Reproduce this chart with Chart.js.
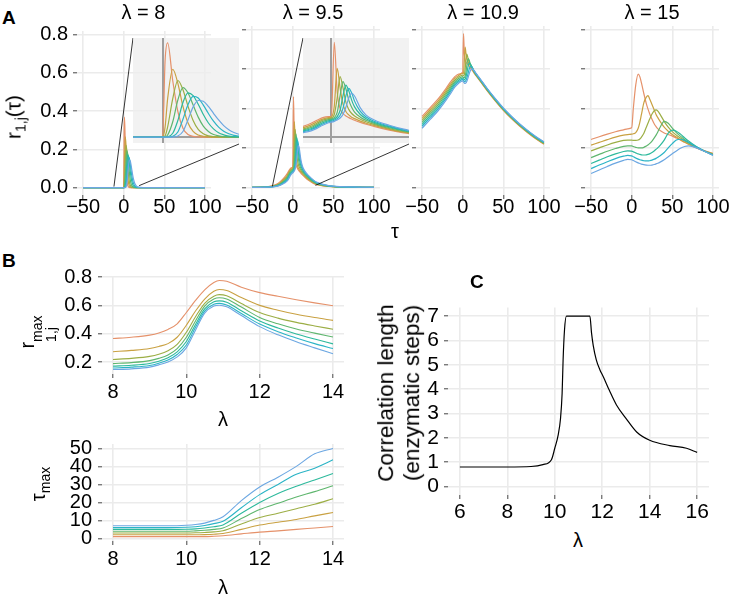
<!DOCTYPE html>
<html lang="en">
<head>
<meta charset="UTF-8">
<title>Correlation panels</title>
<script src="https://cdn.jsdelivr.net/npm/chart.js@4.4.1/dist/chart.umd.min.js"></script>
<style>
  body { margin: 0; background: #fff; width: 731px; height: 594px; position: relative; overflow: hidden;
         font-family: 'Liberation Sans', Arial, Helvetica, sans-serif; }
  canvas { position: absolute; }
  .lbl { position: absolute; white-space: nowrap; color: #000; line-height: 1; }
  .c { transform: translate(-50%, -50%); }
  .rot { transform: translate(-50%, -50%) rotate(-90deg); }
  .tag { font-weight: bold; font-size: 19px; }
  .ttl { font-size: 20px; }
  .ax { font-size: 20px; }
  .stack { display: inline-flex; flex-direction: column; font-size: 14px; line-height: 1.0; vertical-align: -8px; }
  sub { font-size: 14px; vertical-align: -5px; line-height: 0; }
</style>
</head>
<body>

<canvas id="a1"></canvas>
<canvas id="a2"></canvas>
<canvas id="a3"></canvas>
<canvas id="a4"></canvas>
<canvas id="in1"></canvas>
<canvas id="in2"></canvas>
<canvas id="b1"></canvas>
<canvas id="b2"></canvas>
<canvas id="cc"></canvas>

<div class="lbl tag" style="left:2px;top:8px">A</div>
<div class="lbl tag" style="left:2px;top:251px">B</div>
<div class="lbl tag" style="left:470px;top:272px">C</div>

<div class="lbl ttl c" style="left:143.5px;top:12px">λ = 8</div>
<div class="lbl ttl c" style="left:313px;top:12px">λ = 9.5</div>
<div class="lbl ttl c" style="left:483px;top:12px">λ = 10.9</div>
<div class="lbl ttl c" style="left:652px;top:12px">λ = 15</div>
<div class="lbl ax c" style="left:395px;top:231px">τ</div>
<div class="lbl ax rot" style="left:13px;top:117px;font-size:21px">r<sub>1,j</sub>(τ)</div>

<div class="lbl ax rot" style="left:37px;top:332px">r<span class="stack"><span>max</span><span>1,j</span></span></div>
<div class="lbl ax c" style="left:223px;top:419px">λ</div>
<div class="lbl ax rot" style="left:38px;top:484px">τ<sub>max</sub></div>
<div class="lbl ax c" style="left:223px;top:587px">λ</div>

<div class="lbl ax rot" style="left:399px;top:393px;font-size:22.5px;text-align:center;line-height:1.15">Correlation length<br>(enzymatic steps)</div>
<div class="lbl ax c" style="left:578px;top:540px">λ</div>

<script>
// ---- colours of the 7 series (first -> last) ----
const seriesColors = ['#E5916A', '#C9A142', '#9CAE45', '#5FB66E', '#2DB99C', '#2BB4C6', '#6CA7E2'];

// ---- panel A, lambda = 8 ----
const tauA1 = [-50, -10, -1, 0, 0.5, 1, 2, 3, 4, 5, 6, 7, 8, 9, 10, 11, 12, 13, 14, 15, 16, 18, 20, 30, 50, 100];
const r1A1 = [0, 0, 0, 0, 0.30, 0.368, 0.22, 0.10, 0.035, 0.01, 0.003, 0.001, 0, 0, 0, 0, 0, 0, 0, 0, 0, 0, 0, 0, 0, 0];
const r2A1 = [0, 0, 0, 0, 0.04, 0.15, 0.265, 0.21, 0.12, 0.055, 0.022, 0.008, 0.003, 0.001, 0, 0, 0, 0, 0, 0, 0, 0, 0, 0, 0, 0];
const r3A1 = [0, 0, 0, 0, 0.005, 0.04, 0.15, 0.221, 0.185, 0.12, 0.065, 0.03, 0.013, 0.005, 0.002, 0.001, 0, 0, 0, 0, 0, 0, 0, 0, 0, 0];
const r4A1 = [0, 0, 0, 0, 0, 0.008, 0.06, 0.145, 0.193, 0.172, 0.125, 0.078, 0.043, 0.022, 0.01, 0.005, 0.002, 0.001, 0, 0, 0, 0, 0, 0, 0, 0];
const r5A1 = [0, 0, 0, 0, 0, 0.001, 0.015, 0.065, 0.135, 0.173, 0.162, 0.128, 0.088, 0.055, 0.032, 0.017, 0.009, 0.004, 0.002, 0.001, 0, 0, 0, 0, 0, 0];
const r6A1 = [0, 0, 0, 0, 0, 0, 0.003, 0.02, 0.07, 0.127, 0.159, 0.153, 0.125, 0.092, 0.062, 0.039, 0.023, 0.013, 0.007, 0.004, 0.002, 0.001, 0, 0, 0, 0];
const r7A1 = [0, 0, 0, 0, 0, 0, 0, 0.004, 0.022, 0.068, 0.118, 0.143, 0.14, 0.12, 0.093, 0.067, 0.045, 0.029, 0.018, 0.011, 0.006, 0.002, 0.001, 0, 0, 0];

// ---- panel A, lambda = 9.5 ----
const tauA2 = [-50, -30, -20, -15, -10, -7, -5, -3, -1, 0, 1, 2, 3, 4, 5, 6, 7, 8, 10, 12, 15, 20, 25, 30, 40, 50, 75, 100];
const r1A2 = [0, 0.004, 0.015, 0.03, 0.052, 0.068, 0.082, 0.095, 0.1, 0.102, 0.46, 0.22, 0.14, 0.115, 0.103, 0.095, 0.088, 0.082, 0.072, 0.063, 0.051, 0.034, 0.021, 0.013, 0.006, 0.003, 0.001, 0];
const r2A2 = [0, 0.003, 0.012, 0.025, 0.045, 0.06, 0.075, 0.088, 0.095, 0.098, 0.15, 0.334, 0.24, 0.16, 0.125, 0.108, 0.097, 0.09, 0.078, 0.068, 0.056, 0.038, 0.024, 0.015, 0.007, 0.003, 0.001, 0];
const r3A2 = [0, 0.002, 0.01, 0.021, 0.039, 0.053, 0.068, 0.082, 0.09, 0.093, 0.11, 0.19, 0.294, 0.24, 0.17, 0.135, 0.115, 0.103, 0.087, 0.075, 0.061, 0.042, 0.027, 0.017, 0.008, 0.004, 0.001, 0];
const r4A2 = [0, 0.002, 0.008, 0.018, 0.034, 0.047, 0.062, 0.076, 0.085, 0.088, 0.095, 0.12, 0.2, 0.27, 0.235, 0.18, 0.145, 0.122, 0.097, 0.082, 0.066, 0.046, 0.03, 0.019, 0.009, 0.004, 0.001, 0];
const r5A2 = [0, 0.001, 0.007, 0.015, 0.03, 0.041, 0.055, 0.07, 0.08, 0.083, 0.088, 0.1, 0.13, 0.2, 0.253, 0.225, 0.18, 0.147, 0.11, 0.09, 0.071, 0.05, 0.033, 0.021, 0.01, 0.005, 0.001, 0];
const r6A2 = [0, 0.001, 0.006, 0.013, 0.026, 0.036, 0.049, 0.064, 0.075, 0.078, 0.082, 0.09, 0.105, 0.14, 0.2, 0.237, 0.215, 0.175, 0.125, 0.098, 0.076, 0.054, 0.036, 0.023, 0.011, 0.005, 0.001, 0];
const r7A2 = [0, 0.001, 0.005, 0.011, 0.022, 0.031, 0.043, 0.058, 0.07, 0.073, 0.077, 0.083, 0.093, 0.11, 0.145, 0.19, 0.213, 0.2, 0.142, 0.107, 0.082, 0.058, 0.039, 0.025, 0.012, 0.006, 0.002, 0];

// ---- panel A, lambda = 10.9 ----
const tauA3 = [-50, -40, -30, -20, -15, -10, -5, 0, 1, 2, 3, 4, 5, 6, 7, 8, 9, 10, 11, 12, 14, 16, 20, 25, 30, 40, 50, 60, 70, 80, 90, 100];
const r1A3 = [0.36, 0.405, 0.45, 0.505, 0.535, 0.56, 0.575, 0.585, 0.78, 0.68, 0.648, 0.636, 0.63, 0.625, 0.62, 0.615, 0.61, 0.603, 0.597, 0.592, 0.58, 0.569, 0.547, 0.519, 0.491, 0.439, 0.391, 0.349, 0.311, 0.277, 0.246, 0.219];
const r2A3 = [0.35, 0.395, 0.44, 0.495, 0.525, 0.552, 0.568, 0.578, 0.58, 0.64, 0.712, 0.68, 0.655, 0.642, 0.634, 0.627, 0.62, 0.612, 0.605, 0.598, 0.583, 0.571, 0.549, 0.521, 0.493, 0.441, 0.393, 0.351, 0.313, 0.279, 0.248, 0.221];
const r3A3 = [0.34, 0.385, 0.43, 0.485, 0.515, 0.543, 0.56, 0.57, 0.568, 0.572, 0.6, 0.645, 0.676, 0.665, 0.648, 0.636, 0.626, 0.617, 0.609, 0.601, 0.585, 0.573, 0.551, 0.523, 0.495, 0.443, 0.395, 0.353, 0.315, 0.281, 0.25, 0.223];
const r4A3 = [0.33, 0.375, 0.42, 0.475, 0.505, 0.534, 0.552, 0.562, 0.558, 0.557, 0.565, 0.585, 0.615, 0.645, 0.654, 0.645, 0.632, 0.622, 0.613, 0.604, 0.587, 0.575, 0.553, 0.525, 0.497, 0.445, 0.397, 0.355, 0.317, 0.283, 0.252, 0.225];
const r5A3 = [0.32, 0.365, 0.41, 0.465, 0.495, 0.525, 0.544, 0.555, 0.55, 0.547, 0.55, 0.56, 0.578, 0.6, 0.62, 0.632, 0.628, 0.622, 0.615, 0.607, 0.589, 0.577, 0.555, 0.527, 0.499, 0.447, 0.399, 0.357, 0.319, 0.285, 0.254, 0.227];
const r6A3 = [0.31, 0.355, 0.4, 0.455, 0.485, 0.516, 0.536, 0.548, 0.543, 0.538, 0.538, 0.543, 0.553, 0.568, 0.585, 0.6, 0.61, 0.614, 0.612, 0.607, 0.591, 0.579, 0.557, 0.529, 0.501, 0.449, 0.401, 0.359, 0.321, 0.287, 0.256, 0.229];
const r7A3 = [0.30, 0.345, 0.39, 0.445, 0.475, 0.507, 0.528, 0.54, 0.535, 0.53, 0.528, 0.53, 0.537, 0.548, 0.562, 0.576, 0.588, 0.597, 0.601, 0.6, 0.593, 0.581, 0.559, 0.531, 0.503, 0.451, 0.403, 0.361, 0.323, 0.289, 0.258, 0.231];

// ---- panel A, lambda = 15 ----
const tauA4 = [-50, -40, -30, -20, -10, -5, 0, 2, 5, 8, 10, 12, 15, 18, 20, 22, 25, 28, 30, 32, 35, 40, 45, 50, 55, 60, 65, 70, 75, 80, 90, 100];
const r1A4 = [0.243, 0.257, 0.27, 0.282, 0.292, 0.297, 0.302, 0.40, 0.52, 0.575, 0.562, 0.53, 0.475, 0.425, 0.398, 0.375, 0.345, 0.32, 0.308, 0.298, 0.288, 0.276, 0.268, 0.26, 0.25, 0.24, 0.229, 0.219, 0.209, 0.2, 0.185, 0.172];
const r2A4 = [0.214, 0.228, 0.242, 0.255, 0.265, 0.268, 0.27, 0.272, 0.278, 0.3, 0.33, 0.37, 0.43, 0.458, 0.466, 0.45, 0.42, 0.39, 0.37, 0.355, 0.335, 0.305, 0.285, 0.268, 0.255, 0.242, 0.23, 0.22, 0.21, 0.2, 0.184, 0.17];
const r3A4 = [0.185, 0.2, 0.215, 0.228, 0.238, 0.24, 0.24, 0.238, 0.238, 0.24, 0.245, 0.255, 0.275, 0.305, 0.325, 0.345, 0.372, 0.39, 0.393, 0.388, 0.37, 0.335, 0.305, 0.283, 0.265, 0.25, 0.237, 0.225, 0.213, 0.202, 0.183, 0.168];
const r4A4 = [0.151, 0.167, 0.183, 0.197, 0.208, 0.21, 0.21, 0.207, 0.203, 0.2, 0.2, 0.2, 0.203, 0.21, 0.215, 0.222, 0.235, 0.252, 0.265, 0.28, 0.305, 0.335, 0.325, 0.3, 0.278, 0.26, 0.243, 0.228, 0.215, 0.203, 0.182, 0.166];
const r5A4 = [0.121, 0.138, 0.155, 0.17, 0.182, 0.185, 0.184, 0.18, 0.175, 0.17, 0.167, 0.165, 0.164, 0.165, 0.167, 0.17, 0.177, 0.186, 0.193, 0.2, 0.213, 0.24, 0.275, 0.29, 0.285, 0.27, 0.252, 0.235, 0.22, 0.206, 0.183, 0.165];
const r6A4 = [0.095, 0.113, 0.13, 0.146, 0.158, 0.162, 0.16, 0.155, 0.149, 0.143, 0.14, 0.138, 0.135, 0.134, 0.134, 0.135, 0.138, 0.143, 0.147, 0.152, 0.16, 0.177, 0.2, 0.222, 0.24, 0.244, 0.238, 0.228, 0.216, 0.205, 0.183, 0.163];
const r7A4 = [0.07, 0.088, 0.106, 0.123, 0.137, 0.142, 0.14, 0.136, 0.13, 0.124, 0.121, 0.118, 0.115, 0.113, 0.112, 0.112, 0.113, 0.116, 0.119, 0.122, 0.128, 0.14, 0.155, 0.17, 0.185, 0.198, 0.207, 0.21, 0.207, 0.2, 0.182, 0.162];

// zoomed tau windows marked on the first two panels, and the inset axis ranges
const zoomA1 = [-12, 19];
const zoomA2 = [-25, 28];
const insetX1 = [-5.8, 15];
const insetY1 = [-0.023, 0.387];
const insetX2 = [-9.8, 26.8];
const insetY2 = [-0.028, 0.481];

// ---- panel B, maximum correlation vs lambda ----
const lamB1 = [8, 8.5, 9, 9.25, 9.5, 9.75, 10, 10.25, 10.5, 10.75, 10.9, 11.1, 11.5, 12, 12.5, 13, 13.5, 14];
const rmax1 = [0.366, 0.375, 0.39, 0.405, 0.43, 0.47, 0.55, 0.635, 0.71, 0.762, 0.776, 0.77, 0.728, 0.69, 0.664, 0.64, 0.618, 0.598];
const rmax2 = [0.273, 0.282, 0.295, 0.31, 0.33, 0.375, 0.46, 0.56, 0.645, 0.7, 0.712, 0.705, 0.655, 0.6, 0.566, 0.537, 0.514, 0.494];
const rmax3 = [0.218, 0.226, 0.24, 0.255, 0.28, 0.325, 0.41, 0.52, 0.615, 0.665, 0.676, 0.668, 0.613, 0.55, 0.51, 0.48, 0.455, 0.432];
const rmax4 = [0.189, 0.196, 0.21, 0.226, 0.25, 0.295, 0.375, 0.49, 0.595, 0.645, 0.654, 0.645, 0.588, 0.515, 0.47, 0.433, 0.404, 0.377];
const rmax5 = [0.171, 0.177, 0.19, 0.206, 0.23, 0.272, 0.345, 0.465, 0.575, 0.625, 0.632, 0.622, 0.562, 0.49, 0.44, 0.398, 0.362, 0.328];
const rmax6 = [0.158, 0.164, 0.176, 0.192, 0.214, 0.253, 0.32, 0.445, 0.56, 0.608, 0.614, 0.603, 0.543, 0.468, 0.414, 0.37, 0.33, 0.295];
const rmax7 = [0.147, 0.152, 0.164, 0.18, 0.2, 0.236, 0.3, 0.425, 0.545, 0.595, 0.601, 0.59, 0.528, 0.45, 0.392, 0.343, 0.3, 0.258];

// ---- panel B, lag of the maximum vs lambda ----
const lamB2 = [8, 9, 9.5, 10, 10.25, 10.5, 10.75, 11, 11.5, 12, 12.5, 13, 13.5, 14];
const tmax1 = [1, 1, 1, 1, 1, 1, 1.2, 1.5, 2.5, 3.5, 4.2, 5, 5.8, 6.6];
const tmax2 = [2, 2, 2, 2, 2, 2.1, 2.3, 2.7, 5, 7.4, 9, 10.5, 12.5, 14.4];
const tmax3 = [3, 3, 3, 3, 3.1, 3.3, 3.6, 4.2, 8, 11.6, 14, 16.5, 19, 22];
const tmax4 = [4, 4, 4, 4, 4.2, 4.5, 5, 5.8, 11, 16, 19.5, 23, 26, 29.3];
const tmax5 = [5, 5, 5, 5.1, 5.3, 5.8, 6.5, 7.5, 14, 20, 25, 29, 32.5, 36];
const tmax6 = [6, 6, 6, 6.2, 6.5, 7.2, 8.2, 9.5, 17, 24.3, 30, 35.6, 39, 43.7];
const tmax7 = [7, 7, 7, 7.3, 7.7, 8.5, 10, 12, 21, 28.6, 34, 40, 47, 50];

// ---- panel C, correlation length vs lambda ----
const lamC = [6, 7, 8, 9, 9.5, 9.86, 10, 10.14, 10.24, 10.31, 10.35, 10.41, 10.49, 11, 11.48, 11.55, 11.62, 11.75, 11.9, 12.05, 12.3, 12.6, 13, 13.45, 14, 14.85, 15.55, 16];
const corrLen = [0.8, 0.8, 0.8, 0.82, 0.9, 1.1, 1.57, 2.1, 2.77, 3.83, 5.17, 6.43, 7, 7, 7, 6.3, 5.8, 5.2, 4.8, 4.5, 3.95, 3.35, 2.8, 2.24, 1.9, 1.68, 1.57, 1.4];

// tick labels
const tauTicks = [-50, 0, 50, 100];
const rTicks = [0, 0.2, 0.4, 0.6, 0.8];
const lamTicksB = [8, 10, 12, 14];
const rmaxTicks = [0.2, 0.4, 0.6, 0.8];
const tmaxTicks = [0, 10, 20, 30, 40, 50];
const lamTicksC = [6, 8, 10, 12, 14, 16];
const corrTicks = [0, 1, 2, 3, 4, 5, 6, 7];

const FONT = "'Liberation Sans', Arial, Helvetica, sans-serif";

function minus(v) { return v < 0 ? '\u2212' + Math.abs(v) : String(v); }
function oneDec(v) { return v.toFixed(1); }

function line(xs, ys, color, i, width) {
    return {
        data: xs.map((x, k) => ({ x: x, y: ys[k] })),
        borderColor: color, borderWidth: width || 1.2, pointRadius: 0, fill: false,
        cubicInterpolationMode: 'monotone', order: 10 - i
    };
}

function family(xs, list, width) {
    return list.map((ys, i) => line(xs, ys, seriesColors[i], i, width));
}

function axis(kind, min, max, ticks, show, size, fmt, fontSize, pad) {
    return {
        type: 'linear', min: min, max: max,
        afterBuildTicks: s => { s.ticks = ticks.map(v => ({ value: v })); },
        afterFit: s => { if (kind === 'x') s.height = size; else s.width = size; },
        grid: { color: '#EBEBEB', lineWidth: 1.6, drawTicks: true, tickLength: 4, tickColor: '#444', tickWidth: 1 },
        border: { display: false },
        ticks: {
            display: show, padding: pad, color: '#000',
            font: { family: FONT, size: fontSize }, maxRotation: 0, autoSkip: false,
            callback: fmt
        }
    };
}

// put a canvas so that the plot area lands on the given page rectangle
function mount(id, area, m, config) {
    const cv = document.getElementById(id);
    const w = Math.round(area.r - area.l) + m.l + m.r;
    const h = Math.round(area.b - area.t) + m.t + m.b;
    cv.width = w; cv.height = h;
    cv.style.left = Math.round(area.l - m.l) + 'px';
    cv.style.top = Math.round(area.t - m.t) + 'px';
    cv.style.width = w + 'px'; cv.style.height = h + 'px';
    config.options = Object.assign({
        responsive: false, animation: false, events: [],
        layout: { padding: { left: 0, top: m.t, right: m.r, bottom: 0 }, autoPadding: false },
        plugins: { legend: { display: false }, tooltip: { enabled: false } }
    }, config.options);
    return new Chart(cv, config);
}

// thin black lines from the zoom window to the inset corners
function zoomLines(win, inset) {
    return {
        id: 'zoomLines',
        afterDatasetsDraw(chart) {
            const { ctx, scales } = chart;
            const ox = parseFloat(chart.canvas.style.left), oy = parseFloat(chart.canvas.style.top);
            ctx.save();
            ctx.strokeStyle = '#000'; ctx.lineWidth = 0.8;
            ctx.beginPath();
            ctx.moveTo(scales.x.getPixelForValue(win[0]), scales.y.getPixelForValue(0.005));
            ctx.lineTo(inset.l - ox, inset.t - oy);
            ctx.moveTo(scales.x.getPixelForValue(win[1]), scales.y.getPixelForValue(0.01));
            ctx.lineTo(inset.r - ox, inset.b - oy + 1);
            ctx.stroke();
            ctx.restore();
        }
    };
}

const insetBack = {
    id: 'insetBack',
    beforeDatasetsDraw(chart) {
        const { ctx, chartArea: a, scales } = chart;
        ctx.save();
        ctx.fillStyle = 'rgba(238,238,238,0.75)';
        ctx.fillRect(a.left, a.top, a.right - a.left, a.bottom - a.top);
        ctx.strokeStyle = '#9E9E9E'; ctx.lineWidth = 2;
        const x0 = Math.round(scales.x.getPixelForValue(0)), y0 = Math.round(scales.y.getPixelForValue(0));
        ctx.beginPath();
        ctx.moveTo(x0, a.top); ctx.lineTo(x0, a.bottom);
        ctx.moveTo(a.left, y0); ctx.lineTo(a.right, y0);
        ctx.stroke();
        ctx.restore();
    }
};

// plot rectangles in page pixels
const rowA = { t: 26, b: 195 };
const areasA = [
    { l: 77, r: 211 }, { l: 246, r: 380 }, { l: 416, r: 550 }, { l: 585, r: 719 }
].map(a => Object.assign(a, rowA));
const inset1 = { l: 133, r: 239, t: 38, b: 143 };
const inset2 = { l: 303, r: 409, t: 38, b: 143 };

const panelsA = [
    [tauA1, [r1A1, r2A1, r3A1, r4A1, r5A1, r6A1, r7A1]],
    [tauA2, [r1A2, r2A2, r3A2, r4A2, r5A2, r6A2, r7A2]],
    [tauA3, [r1A3, r2A3, r3A3, r4A3, r5A3, r6A3, r7A3]],
    [tauA4, [r1A4, r2A4, r3A4, r4A4, r5A4, r6A4, r7A4]]
];

panelsA.forEach((p, i) => {
    const plugins = [];
    if (i === 0) plugins.push(zoomLines(zoomA1, inset1));
    if (i === 1) plugins.push(zoomLines(zoomA2, inset2));
    mount('a' + (i + 1), areasA[i], { l: 60, r: 40, t: 12, b: 30 }, {
        type: 'line',
        data: { datasets: family(p[0], p[1], 1.2) },
        options: {
            scales: {
                x: axis('x', -57.5, 107.5, tauTicks, true, 30, minus, 20, -4),
                y: axis('y', -0.039, 0.819, rTicks, i === 0, 60, oneDec, 20, 5)
            }
        },
        plugins: plugins
    });
});

function insetChart(id, rect, p, xr, yr) {
    mount(id, rect, { l: 0, r: 0, t: 0, b: 0 }, {
        type: 'line',
        data: { datasets: family(p[0], p[1], 1.2) },
        options: {
            layout: { padding: 0, autoPadding: false },
            scales: {
                x: { type: 'linear', display: false, min: xr[0], max: xr[1] },
                y: { type: 'linear', display: false, min: yr[0], max: yr[1] }
            }
        },
        plugins: [insetBack]
    });
}
insetChart('in1', inset1, panelsA[0], insetX1, insetY1);
insetChart('in2', inset2, panelsA[1], insetX2, insetY2);

// panel B
mount('b1', { l: 102, r: 344, t: 270, b: 374 }, { l: 60, r: 20, t: 12, b: 30 }, {
    type: 'line',
    data: { datasets: family(lamB1, [rmax1, rmax2, rmax3, rmax4, rmax5, rmax6, rmax7], 1.1) },
    options: {
        scales: {
            x: axis('x', 7.7, 14.3, lamTicksB, true, 30, String, 20, 2),
            y: axis('y', 0.1155, 0.8075, rmaxTicks, true, 60, oneDec, 20, 6)
        }
    }
});

mount('b2', { l: 102, r: 344, t: 438, b: 541 }, { l: 60, r: 20, t: 12, b: 30 }, {
    type: 'line',
    data: { datasets: family(lamB2, [tmax1, tmax2, tmax3, tmax4, tmax5, tmax6, tmax7], 1.1) },
    options: {
        scales: {
            x: axis('x', 7.7, 14.3, lamTicksB, true, 30, String, 20, 2),
            y: axis('y', -1.45, 52.45, tmaxTicks, true, 60, String, 20, 6)
        }
    }
});

// panel C
mount('cc', { l: 448, r: 709, t: 302, b: 495 }, { l: 50, r: 20, t: 12, b: 34 }, {
    type: 'line',
    data: { datasets: [line(lamC, corrLen, '#000', 0, 1.2)] },
    options: {
        scales: {
            x: axis('x', 5.5, 16.5, lamTicksC, true, 34, String, 21, 1),
            y: axis('y', -0.35, 7.35, corrTicks, true, 50, String, 21, 5)
        }
    }
});
</script>
</body>
</html>
